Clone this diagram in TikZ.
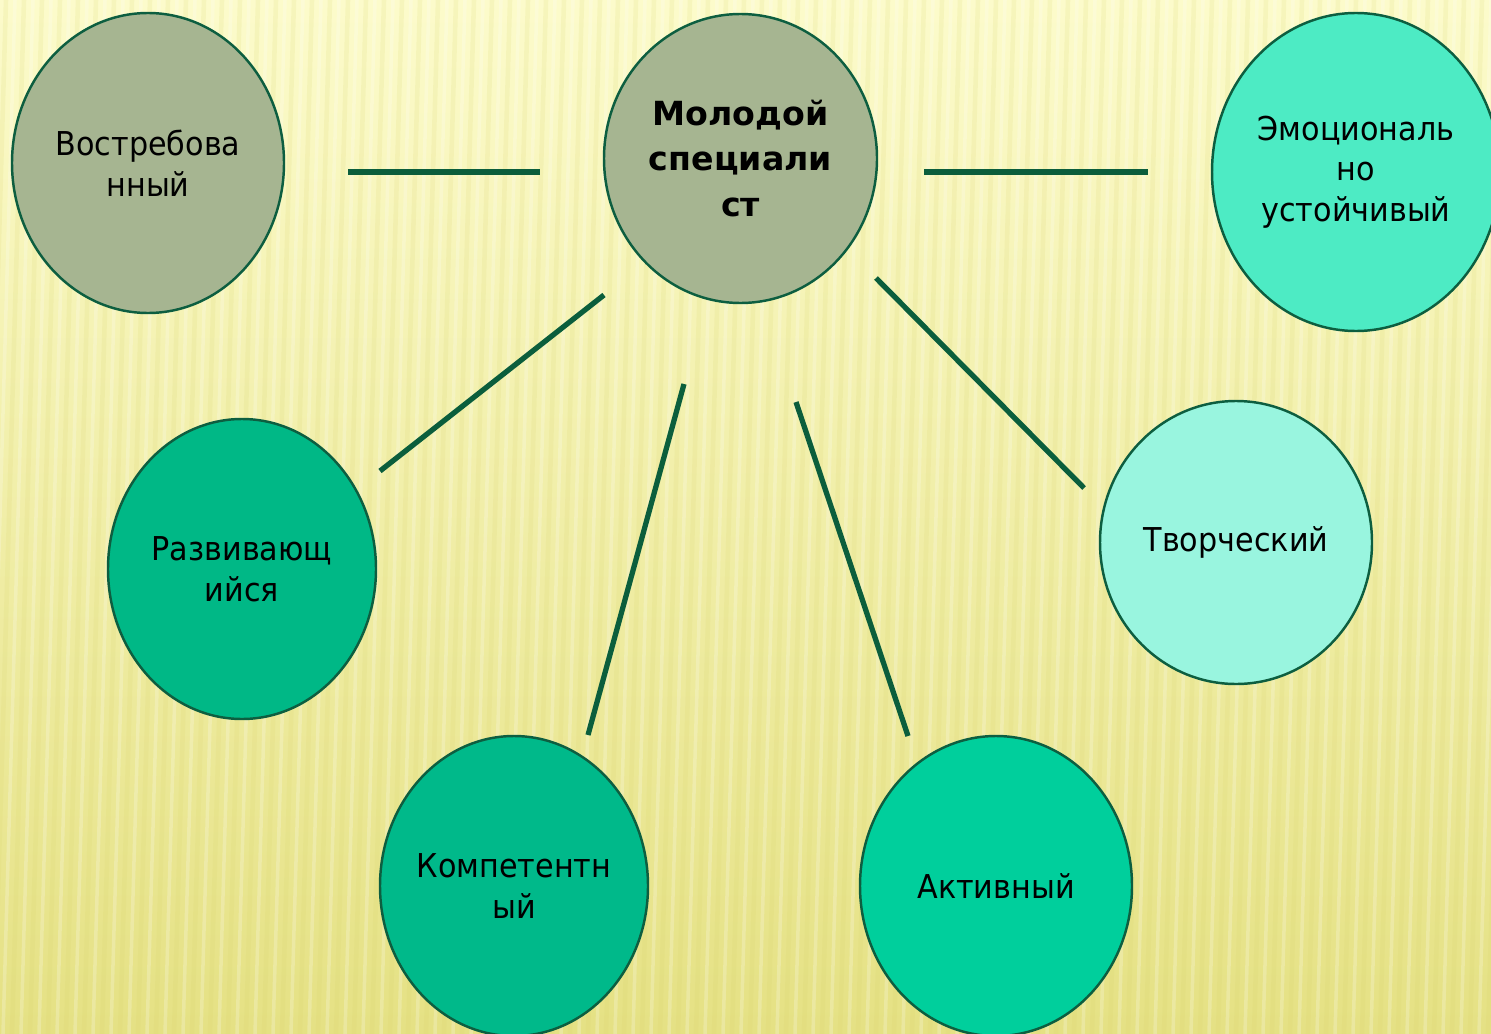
\documentclass[tikz,border=0pt]{standalone}
\usepackage{fontspec}
\setmainfont{DejaVu Sans}
\newfontfamily\regf[FakeStretch=0.92]{DejaVu Sans}
\usetikzlibrary{shapes.geometric}
\definecolor{bgtop}{HTML}{FCFBCB}
\definecolor{bgbot}{HTML}{E5E184}
\definecolor{stripe}{HTML}{D8D36A}
\definecolor{edge}{HTML}{0D5E40}
\definecolor{link}{HTML}{0B5E3C}
\definecolor{grayg}{HTML}{A6B591}
\definecolor{mintA}{HTML}{4DEBC4}
\definecolor{greenA}{HTML}{00B886}
\definecolor{mintB}{HTML}{99F5DF}
\definecolor{greenB}{HTML}{00B98A}
\definecolor{greenC}{HTML}{00CF9C}
\tikzset{
  bubble/.style={ellipse, draw=edge, line width=1.4pt, inner sep=0pt},
  txt/.style={inner sep=0pt, align=center, font=\regf\fontsize{18.7pt}{23.2pt}\selectfont},
  maintxt/.style={txt, font=\bfseries\fontsize{18.9pt}{26pt}\selectfont},
  linkline/.style={draw=link, line width=3pt}
}
\begin{document}
\begin{tikzpicture}[x=0.02cm,y=-0.02cm]
\useasboundingbox (0,0) rectangle (1491,1034);
\begin{scope}
\clip (0,0) rectangle (1491,1034);
\shade[top color=bgtop, bottom color=bgbot] (0,0) rectangle (1491,1034);
\foreach \x in {-60,-42,...,1560}{
  \draw[stripe, line width=2.6pt, opacity=0.15] (\x,1034) -- (\x+30,0);
  \draw[white, line width=2pt, opacity=0.22] (\x+9,1034) -- (\x+39,0);
}
\node[bubble, fill=grayg, minimum width=273*0.02cm, minimum height=289*0.02cm] (center) at (740.5,158.5) {};
\node[bubble, fill=grayg, minimum width=272*0.02cm, minimum height=300*0.02cm] (vostr) at (148,163) {};
\node[bubble, fill=mintA, minimum width=288*0.02cm, minimum height=318*0.02cm] (emo) at (1356,172) {};
\node[bubble, fill=greenA, minimum width=268*0.02cm, minimum height=300*0.02cm] (razv) at (242,569) {};
\node[bubble, fill=mintB, minimum width=272*0.02cm, minimum height=283*0.02cm] (tvor) at (1236,542.5) {};
\node[bubble, fill=greenB, minimum width=268*0.02cm, minimum height=300*0.02cm] (komp) at (514,886) {};
\node[bubble, fill=greenC, minimum width=272*0.02cm, minimum height=300*0.02cm] (akt) at (996,886) {};
\node[maintxt] (centert) at (center) {Молодой\\специали\\ст};
\node[txt] (vostrt) at (vostr) {Востребова\\нный};
\node[txt] (emot) at (emo) {Эмоциональ\\но\\устойчивый};
\node[txt] (razvt) at (razv) {Развивающ\\ийся};
\node[txt] (tvort) at (tvor) {Творческий};
\node[txt] (kompt) at (komp) {Компетентн\\ый};
\node[txt] (aktt) at (akt) {Активный};
\end{scope}
\coordinate (l1a) at (348,172); \coordinate (l1b) at (540,172);
\coordinate (l2a) at (924,172); \coordinate (l2b) at (1148,172);
\coordinate (l3a) at (604,295); \coordinate (l3b) at (380,471);
\coordinate (l4a) at (684,384); \coordinate (l4b) at (588,735);
\coordinate (l5a) at (796,402); \coordinate (l5b) at (908,736);
\coordinate (l6a) at (876,278); \coordinate (l6b) at (1084,488);
\path[linkline] (l1a) -- (l1b);
\path[linkline] (l2a) -- (l2b);
\path[linkline] (l3a) -- (l3b);
\path[linkline] (l4a) -- (l4b);
\path[linkline] (l5a) -- (l5b);
\path[linkline] (l6a) -- (l6b);
\end{tikzpicture}
\end{document}
